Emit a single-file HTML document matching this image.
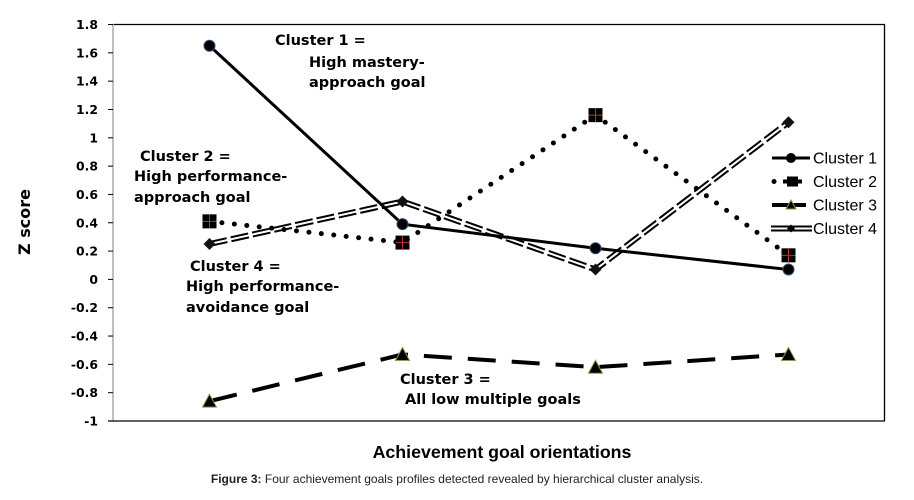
<!DOCTYPE html>
<html><head><meta charset="utf-8"><style>
body{margin:0;background:#fff;width:914px;height:495px;overflow:hidden}
svg{font-family:"Liberation Sans",Arial,sans-serif}
.dv{font-family:"DejaVu Sans","Liberation Sans",sans-serif}
</style></head><body>
<svg width="914" height="495">
<script>
const categories=["Mastery-approach","Performance-approach","Mastery-avoidance","Performance-avoidance"];
const cluster1=[1.65,0.39,0.22,0.07];
const cluster2=[0.41,0.26,1.16,0.17];
const cluster3=[-0.86,-0.53,-0.62,-0.53];
const cluster4=[0.25,0.55,0.07,1.11];
const yTicks=["1.8","1.6","1.4","1.2","1","0.8","0.6","0.4","0.2","0","-0.2","-0.4","-0.6","-0.8","-1"];
</script>
<g id="frame">
<line x1="113" y1="24.5" x2="885" y2="24.5" stroke="#000" stroke-width="1.3"/>
<line x1="884.5" y1="24" x2="884.5" y2="421" stroke="#000" stroke-width="1.3"/>
<line x1="113" y1="24" x2="113" y2="421" stroke="#aaa" stroke-width="1.5"/>
<line x1="108" y1="421" x2="885" y2="421" stroke="#000" stroke-width="1.3"/>
</g>
<g id="yt" class="dv" font-size="12.4" font-weight="bold" text-anchor="end"></g>
<g id="series"></g>
<g class="dv" font-size="14.5" font-weight="bold" fill="#000">
<text x="275" y="45">Cluster 1 =</text>
<text x="309" y="67">High mastery-</text>
<text x="309" y="87">approach goal</text>
<text x="140" y="161">Cluster 2 =</text>
<text x="134" y="181">High performance-</text>
<text x="134" y="202">approach goal</text>
<text x="190" y="271">Cluster 4 =</text>
<text x="186" y="291">High performance-</text>
<text x="186" y="312">avoidance goal</text>
<text x="400" y="384">Cluster 3 =</text>
<text x="405" y="404">All low multiple goals</text>
</g>
<g id="legend" font-size="16"></g>
<text x="30" y="222" transform="rotate(-90 30 222)" text-anchor="middle" class="dv" font-size="16" font-weight="bold">Z score</text>
<text x="502" y="458" text-anchor="middle" font-size="17.8" font-weight="bold">Achievement  goal orientations</text>
<text x="457" y="483" text-anchor="middle" font-size="12" fill="#222"><tspan font-weight="bold">Figure 3:</tspan> Four achievement goals profiles detected revealed by hierarchical cluster analysis.</text>
<script>
const NS="http://www.w3.org/2000/svg";
const X=i=>113+193*(i+0.5);
const Y=v=>279.4-v*141.6;
function mk(t,a,p){const e=document.createElementNS(NS,t);for(const k in a)e.setAttribute(k,a[k]);p.appendChild(e);return e;}
const yt=document.getElementById('yt');
yTicks.forEach(s=>{const v=parseFloat(s);
 const t=mk('text',{x:98,y:Y(v)+4.5},yt);t.textContent=s;
 
 
 const l=mk('line',{x1:108,x2:113,y1:Y(v),y2:Y(v),stroke:'#000'},yt);
 
 });
const g=document.getElementById('series');
function pts(a){return a.map((v,i)=>X(i)+','+Y(v)).join(' ');}
let p=mk('polyline',{points:pts(cluster4),fill:'none',stroke:'#000','stroke-width':6,'stroke-dasharray':'18 4'},g);


mk('polyline',{points:pts(cluster4),fill:'none',stroke:'#fff','stroke-width':2},g);
p=mk('polyline',{points:pts(cluster2),fill:'none',stroke:'#000','stroke-width':5,'stroke-linecap':'round','stroke-dasharray':'0 12.5'},g);


p=mk('polyline',{points:pts(cluster3),fill:'none',stroke:'#000','stroke-width':4,'stroke-dasharray':'28 16'},g);


p=mk('polyline',{points:pts(cluster1),fill:'none',stroke:'#000','stroke-width':3},g);


cluster4.forEach((v,i)=>{const m=mk('polygon',{points:`${X(i)},${Y(v)-6} ${X(i)+6},${Y(v)} ${X(i)},${Y(v)+6} ${X(i)-6},${Y(v)}`,fill:'#111'},g);
 
 });
cluster2.forEach((v,i)=>{const m=mk('rect',{x:X(i)-7,y:Y(v)-7,width:14,height:14,fill:'#000'},g);
 
 
 mk('path',{d:`M${X(i)} ${Y(v)-7}V${Y(v)+7}M${X(i)-7} ${Y(v)}H${X(i)+7}`,stroke:'#b33',"stroke-width":1},g);});
cluster3.forEach((v,i)=>{const m=mk('polygon',{points:`${X(i)},${Y(v)-7} ${X(i)+7},${Y(v)+6} ${X(i)-7},${Y(v)+6}`,fill:'#000',stroke:'#8a9a4a'},g);
 
 });
cluster1.forEach((v,i)=>{const m=mk('circle',{cx:X(i),cy:Y(v),r:5.5,fill:'#000',stroke:'#2a4f7a'},g);
 
 });
const lg=document.getElementById('legend');
const names=["Cluster 1","Cluster 2","Cluster 3","Cluster 4"];
names.forEach((n,k)=>{const y=158+k*23.5;
 const t=mk('text',{x:813,y:y+5.5},lg);t.textContent=n;
 
 
 if(k==0){mk('line',{x1:772,x2:810,y1:y,y2:y,stroke:'#000','stroke-width':3},lg);mk('circle',{cx:791,cy:y,r:5,fill:'#000'},lg);}
 if(k==1){mk('circle',{cx:774,cy:y,r:2.5,fill:'#000'},lg);mk('rect',{x:787,y:y-5,width:11,height:10,fill:'#000'},lg);mk('line',{x1:783,x2:802,y1:y,y2:y,stroke:'#000','stroke-width':4},lg);}
 if(k==2){mk('line',{x1:772,x2:806,y1:y,y2:y,stroke:'#000','stroke-width':4},lg);mk('polygon',{points:`791,${y-5} 796,${y+4} 786,${y+4}`,fill:'#000',stroke:'#8a9a4a'},lg);}
 if(k==3){mk('line',{x1:771,x2:812,y1:y,y2:y,stroke:'#000','stroke-width':6},lg);mk('line',{x1:771,x2:812,y1:y,y2:y,stroke:'#fff','stroke-width':2},lg);mk('polygon',{points:`791,${y-4} 795,${y} 791,${y+4} 787,${y}`,fill:'#000'},lg);}
});
</script>
</svg>
</body></html>
